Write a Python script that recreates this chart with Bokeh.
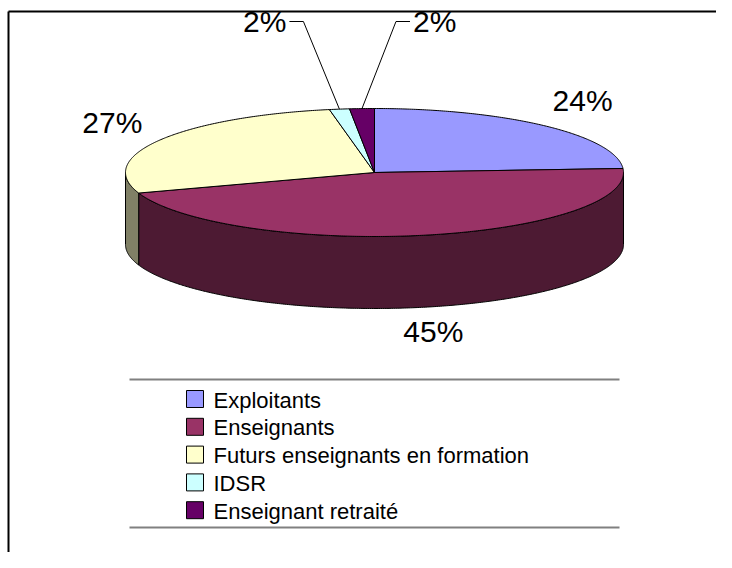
import math
from bokeh.plotting import figure
from bokeh.models import Range1d
from bokeh.embed import file_html
from bokeh.resources import INLINE
from bokeh.core.properties import value

# ---------------- data ----------------
categories = ["Exploitants", "Enseignants", "Futurs enseignants en formation",
              "IDSR", "Enseignant retraité"]
values = [24.0, 45.8, 27.3, 1.3, 1.6]
pct_labels = ["24%", "45%", "27%", "2%", "2%"]

# ---------------- style ----------------
colors = ["#9999FF", "#993366", "#FFFFCC", "#CCFFFF", "#660066"]
side_colors = ["#4D4D80", "#4D1A33", "#808066", "#668080", "#330033"]
FONT = "Liberation Sans"

W, H = 716, 552
X0, Y0 = 1, 1
p = figure(width=W, height=H, x_range=Range1d(X0, X0 + W), y_range=Range1d(Y0 + H, Y0),
           output_backend="svg", toolbar_location=None, min_border=0,
           x_axis_location=None, y_axis_location=None)
p.grid.visible = False
p.outline_line_color = None
p.background_fill_color = "white"
p.border_fill_color = "white"

# pie geometry (screen pixels)
cx, cy, rx, ry, depth = 375.0, 173.0, 249.0, 64.0, 72.0


def pt(a, dy=0.0):
    r = math.radians(a)
    return cx + rx * math.cos(r), cy - ry * math.sin(r) + dy


def arc(a_from, a_to, dy=0.0):
    n = max(2, int(abs(a_from - a_to) * 2) + 1)
    return [pt(a_from + (a_to - a_from) * k / (n - 1), dy) for k in range(n)]


total = sum(values)
starts, ends = [], []
a = 90.0
for v in values:
    span = v / total * 360.0
    starts.append(a)
    ends.append(a - span)
    a -= span

# side walls (front half only)
sx, sy, sc = [], [], []
for i in range(len(values)):
    for lo, hi in [(-540, -360), (-180, 0), (180, 360)]:
        s = max(ends[i], lo)
        e = min(starts[i], hi)
        if s < e:
            poly = arc(e, s) + arc(s, e, depth)
            sx.append([q[0] for q in poly])
            sy.append([q[1] for q in poly])
            sc.append(side_colors[i])
p.patches(sx, sy, fill_color=sc, line_color="black", line_width=1)

# top faces
tx, ty = [], []
for i in range(len(values)):
    poly = [(cx, cy)] + arc(starts[i], ends[i])
    tx.append([q[0] for q in poly])
    ty.append([q[1] for q in poly])
p.patches(tx, ty, fill_color=colors, line_color="black", line_width=1)

# percentage labels
lab_dx, lab_dy_up, lab_dy_down = 55.0, 35.0, 25.0
elbow_dx = [0, 0, 0, -36, 34]
label_y = 22.0
PCT_SIZE = "30px"
for i in range(len(values)):
    mid = (starts[i] + ends[i]) / 2.0
    if abs(values[i]) / total < 0.05:
        ax, ay = pt(mid)
        ex = ax + elbow_dx[i]
        sgn = 1 if elbow_dx[i] > 0 else -1
        hx = ex + 14 * sgn
        p.line([ax, ex, hx], [ay, label_y, label_y], line_color="black", line_width=1)
        p.text(x=[hx + 3 * sgn], y=[label_y], text=[pct_labels[i]],
               text_font=value(FONT), text_font_size=value(PCT_SIZE),
               text_align="left" if sgn > 0 else "right", text_baseline="middle",
               text_color="black")
    else:
        r = math.radians(mid)
        lower = math.sin(r) < 0
        lx = cx + (rx + lab_dx) * math.cos(r)
        ly = cy - (ry + (lab_dy_down if lower else lab_dy_up)) * math.sin(r) + (depth if lower else 0)
        p.text(x=[lx], y=[ly], text=[pct_labels[i]],
               text_font=value(FONT), text_font_size=value(PCT_SIZE),
               text_align="center", text_baseline="middle", text_color="black")

# outer chart border (top and left visible)
p.line([9, X0 + W + 20], [12, 12], line_color="black", line_width=2)
p.line([9, 9], [12, Y0 + H + 20], line_color="black", line_width=2)

# legend
p.line([130, 620], [380, 380], line_color="#808080", line_width=2)
p.line([130, 620], [528, 528], line_color="#808080", line_width=2)
leg_top, leg_step, sw = 391.0, 27.8, 17.0
tops = [leg_top + leg_step * i for i in range(len(categories))]
p.quad(left=[187] * len(categories), right=[187 + sw] * len(categories),
       top=tops, bottom=[t + sw for t in tops],
       fill_color=colors, line_color="black", line_width=1)
p.text(x=[214] * len(categories), y=[t + sw / 2 + 1 for t in tops], text=categories,
       text_font=value(FONT), text_font_size=value("22px"),
       text_align="left", text_baseline="middle", text_color="black")

open("out.html", "w").write(file_html(p, INLINE))
